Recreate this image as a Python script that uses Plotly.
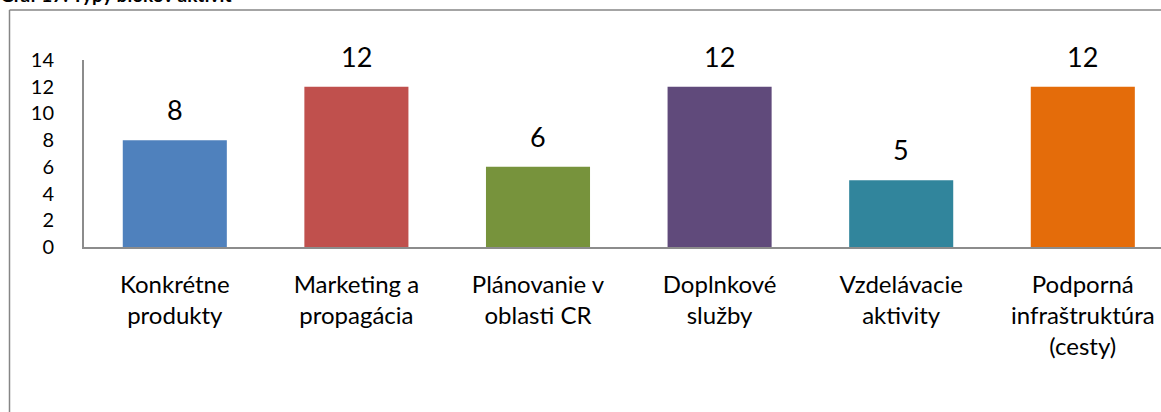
import plotly.graph_objects as go

# Activity block types and their counts
categories = [
    "Konkrétne<br>produkty",
    "Marketing a<br>propagácia",
    "Plánovanie v<br>oblasti CR",
    "Doplnkové<br>služby",
    "Vzdelávacie<br>aktivity",
    "Podporná<br>infraštruktúra<br>(cesty)",
]
counts = [8, 12, 6, 12, 5, 12]
bar_colors = ["#4F81BD", "#C0504D", "#77933C", "#604A7B", "#31859C", "#E46C0A"]
y_ticks = [0, 2, 4, 6, 8, 10, 12, 14]

W, H = 1161, 412
M_L, M_R, M_T, M_B = 84, 0, 60, 165
FONT = "Lato, Calibri, 'Liberation Sans', sans-serif"
AXIS_GREY = "#8C8C8C"

x_pos = list(range(len(categories)))
# category slot width in pixels; the last slot runs past the right edge
slot_px = 181.6
x_max = -0.5 + (W - M_L - M_R) / slot_px

fig = go.Figure()
fig.add_trace(go.Bar(
    x=x_pos,
    y=counts,
    marker=dict(color=bar_colors, line=dict(width=0)),
    width=0.573,
    hoverinfo="skip",
))

# value labels above each bar
for xi, v in zip(x_pos, counts):
    fig.add_annotation(
        x=xi, y=v, text=str(v), showarrow=False,
        yanchor="bottom", yshift=12,
        font=dict(family=FONT, size=27, color="#000000"),
    )

pw = W - M_L - M_R
ph = H - M_T - M_B


def px_to_paper_x(px):
    return (px - M_L) / pw


def px_to_paper_y(py):
    return (H - M_B - py) / ph


# outer chart frame (left and top edges)
frame_x = px_to_paper_x(9.5)
frame_y = px_to_paper_y(10)
fig.add_shape(type="line", xref="paper", yref="paper",
              x0=frame_x, x1=frame_x, y0=frame_y, y1=px_to_paper_y(H + 5),
              line=dict(color="#868686", width=1.5))
fig.add_shape(type="line", xref="paper", yref="paper",
              x0=frame_x, x1=px_to_paper_x(W + 5), y0=frame_y, y1=frame_y,
              line=dict(color="#868686", width=1.5))

# chart caption, sitting mostly above the visible page
fig.add_annotation(
    xref="paper", yref="paper", x=px_to_paper_x(-2), y=px_to_paper_y(8),
    xanchor="left", yanchor="bottom", showarrow=False,
    text="<b>Graf 17: Typy blokov aktivít</b>",
    font=dict(family=FONT, size=19, color="#000000"),
)

fig.update_layout(
    width=W, height=H,
    margin=dict(l=M_L, r=M_R, t=M_T, b=M_B, pad=0),
    paper_bgcolor="white", plot_bgcolor="white",
    showlegend=False,
    font=dict(family=FONT, color="#000000"),
    xaxis=dict(
        range=[-0.5, x_max],
        tickmode="array", tickvals=x_pos, ticktext=categories,
        showline=True, linecolor=AXIS_GREY, linewidth=2,
        showgrid=False, zeroline=False, ticks="",
        tickfont=dict(family=FONT, size=24, color="#000000"),
        ticklabelstandoff=15,
        fixedrange=True,
    ),
    yaxis=dict(
        range=[0, 14],
        tickmode="array", tickvals=y_ticks,
        showline=True, linecolor=AXIS_GREY, linewidth=2,
        showgrid=False, zeroline=False, ticks="",
        tickfont=dict(family=FONT, size=20, color="#000000"),
        ticklabelstandoff=24,
        fixedrange=True,
    ),
)

fig.write_html("out.html", config={"displayModeBar": False})
